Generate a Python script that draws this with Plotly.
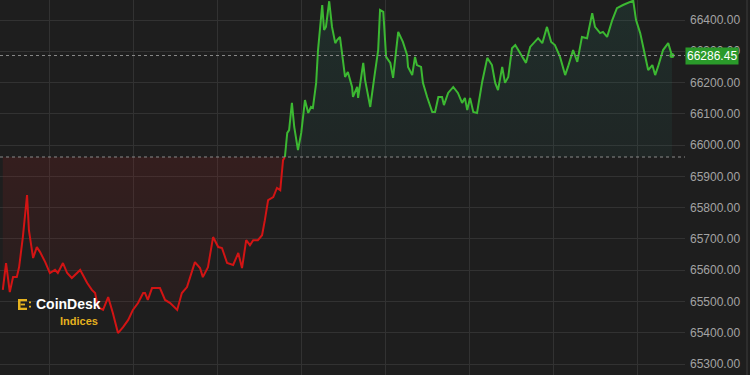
import pandas as pd
import plotly.graph_objects as go

# ---- data ----
start_time = pd.Timestamp("2024-04-08 13:13")
minutes = [6, 13, 21, 28, 36, 41, 49, 58, 62, 71,
           79, 86, 97, 107, 118, 124, 135, 144, 154, 172,
           187, 197, 204, 210, 221, 232, 242, 253, 264, 275,
           285, 296, 307, 311, 317, 326, 343, 354, 365, 375,
           380, 390, 401, 418, 429, 435, 446, 457, 468, 476,
           487, 500, 511, 519, 528, 536, 543, 553, 562, 568,
           575, 586, 594, 601, 607, 611,
           616, 620, 626, 631, 639, 646, 654, 661, 667, 671,
           678, 682, 691, 695, 699, 706, 712, 719, 723, 729,
           734, 740, 746, 755, 757, 766, 768, 779, 783, 794,
           804, 811, 815, 822, 828, 837, 843, 854, 864, 873,
           875, 884, 890, 894, 903, 907, 916, 927, 933, 940,
           948, 952, 961, 972, 982, 991, 997, 1002, 1008, 1015,
           1023, 1034, 1045, 1055, 1062, 1068, 1077, 1083, 1090, 1098,
           1105, 1111, 1122, 1128, 1137, 1148, 1154, 1163, 1173, 1182,
           1190, 1201, 1212, 1218, 1229, 1238, 1248, 1259, 1270, 1276,
           1287, 1293, 1302, 1313, 1323, 1336, 1351, 1358, 1364, 1373,
           1384, 1390, 1399, 1405, 1411, 1422, 1433, 1441]
prices = [65537, 65623, 65530, 65578, 65578, 65610, 65706, 65840, 65728, 65639,
          65674, 65658, 65626, 65591, 65601, 65591, 65623, 65591, 65575, 65601,
          65559, 65537, 65527, 65482, 65473, 65514, 65463, 65399, 65418, 65441,
          65473, 65495, 65527, 65527, 65505, 65543, 65543, 65505, 65495, 65482,
          65473, 65527, 65546, 65626, 65607, 65578, 65610, 65706, 65674, 65671,
          65623, 65617, 65655, 65607, 65696, 65680, 65696, 65696, 65712, 65760,
          65824, 65834, 65863, 65856, 65952, 65962,
          66039, 66048, 66135, 66058, 65984, 66039, 66144, 66103, 66122, 66119,
          66199, 66304, 66448, 66368, 66378, 66460, 66378, 66326, 66336, 66346,
          66294, 66218, 66234, 66186, 66154, 66186, 66151, 66263, 66208, 66122,
          66231, 66304, 66432, 66426, 66282, 66263, 66215, 66362, 66330, 66288,
          66250, 66224, 66282, 66256, 66250, 66199, 66154, 66106, 66106, 66154,
          66154, 66128, 66167, 66186, 66167, 66135, 66151, 66112, 66151, 66106,
          66103, 66202, 66279, 66256, 66199, 66176, 66250, 66199, 66218, 66310,
          66320, 66304, 66279, 66263, 66314, 66330, 66342, 66326, 66378, 66330,
          66320, 66282, 66224, 66250, 66304, 66266, 66346, 66342, 66422, 66378,
          66358, 66362, 66346, 66400, 66438, 66448, 66458, 66462, 66400, 66358,
          66282, 66240, 66256, 66224, 66250, 66304, 66326, 66286.45]
open_price = 65962
last_price = prices[-1]
tick_values = [65300, 65400, 65500, 65600, 65700, 65800, 65900, 66000, 66100, 66200, 66300, 66400]
tick_labels = [f"{v:.2f}" for v in tick_values]

# ---- styling ----
BG = "#1e1e1e"
GRID = "#323232"
RED = "#d21414"
GREEN = "#3cb832"
W, H = 750, 375
R_MARGIN = 65
PLOT_W = W - R_MARGIN
FONT = "Liberation Sans, Arial"

times = [start_time + pd.Timedelta(minutes=m) for m in minutes]
cross = next(i for i, p in enumerate(prices) if p >= open_price)
upper = [max(p, open_price) for p in prices]
lower = [min(p, open_price) for p in prices]
base = [open_price] * len(prices)
y_lo, y_hi = 65265, 66464

fig = go.Figure()
fig.add_trace(go.Scatter(x=times, y=base, mode="lines", line=dict(width=0), hoverinfo="skip", showlegend=False))
fig.add_trace(go.Scatter(x=times, y=upper, mode="lines", line=dict(width=0), fill="tonexty",
                         fillgradient=dict(type="vertical", start=open_price, stop=y_hi,
                                           colorscale=[[0, "rgba(40,110,100,0.10)"], [1, "rgba(40,120,100,0.18)"]]),
                         hoverinfo="skip", showlegend=False))
fig.add_trace(go.Scatter(x=times, y=base, mode="lines", line=dict(width=0), hoverinfo="skip", showlegend=False))
fig.add_trace(go.Scatter(x=times, y=lower, mode="lines", line=dict(width=0), fill="tonexty",
                         fillgradient=dict(type="vertical", start=y_lo, stop=open_price,
                                           colorscale=[[0, "rgba(140,30,30,0.03)"], [1, "rgba(150,30,30,0.19)"]]),
                         hoverinfo="skip", showlegend=False))
fig.add_trace(go.Scatter(x=times[:cross + 1], y=prices[:cross + 1], mode="lines",
                         line=dict(color=RED, width=2), showlegend=False))
fig.add_trace(go.Scatter(x=times[cross:], y=prices[cross:], mode="lines",
                         line=dict(color=GREEN, width=2), showlegend=False))
fig.add_trace(go.Scatter(x=[times[-1]], y=[last_price], mode="markers",
                         marker=dict(color=GREEN, size=5), showlegend=False))

# dotted reference lines
for yv in (open_price, last_price):
    fig.add_shape(type="line", xref="paper", x0=0, x1=1, yref="y", y0=yv, y1=yv,
                  line=dict(color="#8a8a8a", width=1, dash="dot"), layer="above")

# separator at right edge
fig.add_shape(type="line", xref="paper", x0=747 / PLOT_W, x1=747 / PLOT_W, yref="paper", y0=0, y1=1,
              line=dict(color="#3c3c3c", width=1))

# price label
fig.add_annotation(xref="paper", x=711.5 / PLOT_W, yref="y", y=last_price, text="66286.45",
                   showarrow=False, bgcolor="#2a9a2a", font=dict(color="white", size=12, family=FONT),
                   borderpad=1, xanchor="center", yanchor="middle")

# CoinDesk Indices logo
def px(x):
    return x / PLOT_W

def py(y):
    return 1 - y / H

LOGO = "#e5b21f"
for (x0, y0, x1, y1) in [(18, 299, 20.5, 310), (18, 299, 27, 301.3), (18, 307.7, 27, 310),
                         (20.5, 303.6, 25, 305.4), (29, 301.5, 31, 303.3), (29, 305.8, 31, 307.6)]:
    fig.add_shape(type="rect", xref="paper", yref="paper", x0=px(x0), x1=px(x1), y0=py(y1), y1=py(y0),
                  fillcolor=LOGO, line=dict(width=0), layer="above")
fig.add_annotation(xref="paper", yref="paper", x=px(34), y=py(304), text="<b>CoinDesk</b>", showarrow=False,
                   xanchor="left", yanchor="middle", height=12, valign="middle",
                   font=dict(color="white", size=14, family=FONT))
fig.add_annotation(xref="paper", yref="paper", x=px(100), y=py(320.5), text="<b>Indices</b>", showarrow=False,
                   xanchor="right", yanchor="middle", height=10, valign="middle",
                   font=dict(color=LOGO, size=11, family=FONT))

fig.update_layout(
    width=W, height=H,
    margin=dict(l=0, r=R_MARGIN, t=0, b=0),
    paper_bgcolor=BG, plot_bgcolor=BG,
    showlegend=False,
    xaxis=dict(type="date", range=[start_time, start_time + pd.Timedelta(minutes=1469)],
               showticklabels=False, showgrid=True, gridcolor=GRID, gridwidth=1,
               tick0="2024-04-08 00:00", dtick=3 * 3600 * 1000, ticks="",
               zeroline=False, showline=False, fixedrange=True),
    yaxis=dict(side="right", range=[y_lo, y_hi], tickvals=tick_values, ticktext=tick_labels,
               showgrid=True, gridcolor=GRID, gridwidth=1, ticks="", ticklabelstandoff=4,
               tickfont=dict(color="#a3a3a3", size=12, family=FONT),
               zeroline=False, showline=False, fixedrange=True),
)

fig.write_html("out.html")
